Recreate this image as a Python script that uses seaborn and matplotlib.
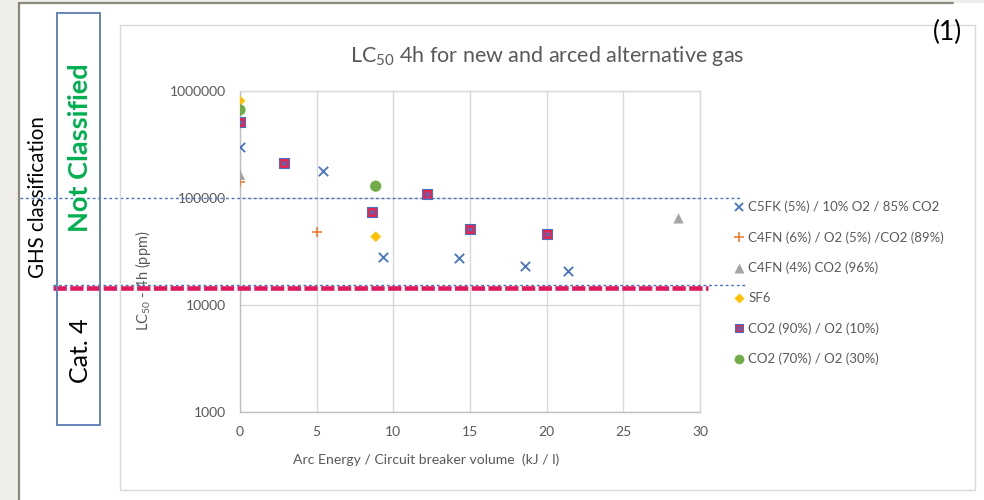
import numpy as np
import pandas as pd
import matplotlib
matplotlib.use('Agg')
import matplotlib.pyplot as plt
import matplotlib.transforms as mtransforms
from matplotlib.patches import Rectangle
from matplotlib.lines import Line2D
from matplotlib.legend_handler import HandlerTuple
from matplotlib.ticker import FixedLocator, FuncFormatter
import seaborn as sns

# data
c5fk_x = [0, 5.4, 9.3, 14.3, 18.6, 21.4]
c5fk_y = [300000, 180000, 28000, 27500, 23000, 21000]
c4fn6_x = [0, 5.0]
c4fn6_y = [140000, 48000]
c4fn4_x = [0, 28.6]
c4fn4_y = [165000, 64500]
sf6_x = [0, 8.85]
sf6_y = [810000, 43500]
co2_90_x = [0, 2.85, 8.6, 12.2, 15.0, 20.0]
co2_90_y = [516000, 211000, 73500, 110000, 51500, 46000]
co2_70_x = [0, 8.85]
co2_70_y = [665000, 129000]

labels = ['C5FK (5%) / 10% O2 / 85% CO2',
          'C4FN (6%) / O2 (5%) /CO2 (89%)',
          'C4FN (4%) CO2 (96%)',
          'SF6',
          'CO2 (90%) / O2 (10%)',
          'CO2 (70%) / O2 (30%)']

not_classified_limit = 100000
cat4_limit_blue = 15300
cat4_limit_red = 14500

yticks = [1000, 10000, 100000, 1000000]
xticks = [0, 5, 10, 15, 20, 25, 30]

sns.set_theme(style="white")
plt.rcParams['font.family'] = ['Lato', 'DejaVu Sans']
plt.rcParams['mathtext.fontset'] = 'custom'
plt.rcParams['mathtext.rm'] = 'Lato'

W, H = 984, 500
fig = plt.figure(figsize=(9.84, 5.0), dpi=100)
fig.patch.set_facecolor('#efeeea')


def fx(px):
    return px / W


def fy(py):
    return 1 - py / H


# slide background and frame
fig.add_artist(Rectangle((fx(19), 0), 1 - fx(19), fy(3), transform=fig.transFigure,
                         facecolor='white', edgecolor='none', zorder=-10))
fig.add_artist(Line2D([fx(19), fx(19)], [0, fy(3)], transform=fig.transFigure,
                      color='#8a897a', lw=1.6))
fig.add_artist(Line2D([fx(19), fx(953)], [fy(3), fy(3)], transform=fig.transFigure,
                      color='#8a897a', lw=1.6))
# chart area box
fig.add_artist(Rectangle((fx(120), fy(490)), fx(975) - fx(120), fy(25) - fy(490),
                         transform=fig.transFigure, facecolor='none',
                         edgecolor='#d9d9d9', lw=1))
# GHS box
fig.add_artist(Rectangle((fx(57), fy(425)), fx(100) - fx(57), fy(13) - fy(425),
                         transform=fig.transFigure, facecolor='none',
                         edgecolor='#5a7bb5', lw=1.3))
fig.text(fx(38), fy(197), 'GHS classification', rotation=90, ha='center', va='center',
         fontsize=14.8, color='black')
fig.text(fx(80), fy(148), 'Not Classified', rotation=90, ha='center', va='center',
         fontsize=19.5, color='#00b050', fontweight='bold')
fig.text(fx(80), fy(351), 'Cat. 4', rotation=90, ha='center', va='center',
         fontsize=18, color='black')
fig.text(fx(948), fy(32), '(1)', ha='center', va='center', fontsize=19, color='black')
fig.text(fx(547), fy(56), r'LC$_{\mathregular{50}}$ 4h for new and arced alternative gas',
         ha='center', va='center', fontsize=15.5, color='#595959')

ax = fig.add_axes([fx(240), fy(412), fx(700) - fx(240), fy(91) - fy(412)])
ax.set_facecolor('white')
ax.set_yscale('log')
ax.set_xlim(0, 30)
ax.set_ylim(1000, 1000000)
ax.grid(True, color='#d9d9d9', lw=1)
ax.set_axisbelow(True)
for s in ax.spines.values():
    s.set_color('#d9d9d9')
    s.set_linewidth(1)
ax.spines['left'].set_color('#bfbfbf')
ax.spines['bottom'].set_color('#bfbfbf')

ax.xaxis.set_major_locator(FixedLocator(xticks))
ax.yaxis.set_major_locator(FixedLocator(yticks))
ax.yaxis.set_minor_locator(FixedLocator([]))
ax.yaxis.set_major_formatter(FuncFormatter(lambda v, p: str(int(v))))
ax.tick_params(axis='both', length=0, labelsize=10, labelcolor='#595959')
ax.tick_params(axis='x', pad=10)
ax.tick_params(axis='y', pad=10)

ax.set_xlabel('Arc Energy / Circuit breaker volume  (kJ / l)', fontsize=10.1,
              color='#595959')
ax.xaxis.set_label_coords(0.404, -0.13)
ax.set_ylabel(r'LC$_{\mathregular{50}}$ - 4h (ppm)', fontsize=10.5, color='#595959')
ax.yaxis.set_label_coords(-0.19, 0.41)

blue = '#4472c4'
orange = '#ed7d31'
grey = '#a5a5a5'
yellow = '#ffc000'
red = '#e8254f'
green = '#70ad47'

sns.scatterplot(x=c5fk_x, y=c5fk_y, marker='x', color=blue, s=45, linewidth=1.3, ax=ax, zorder=5)
sns.scatterplot(x=c4fn6_x, y=c4fn6_y, marker='+', color=orange, s=55, linewidth=1.2, ax=ax, zorder=5)
sns.scatterplot(x=c4fn4_x, y=c4fn4_y, marker='^', color=grey, s=55, edgecolor='none', ax=ax, zorder=5)
sns.scatterplot(x=sf6_x, y=sf6_y, marker='D', color=yellow, s=30, edgecolor='none', ax=ax, zorder=5)
sns.scatterplot(x=co2_90_x, y=co2_90_y, marker='s', color=red, s=45, edgecolor=blue,
                linewidth=0.8, ax=ax, zorder=5)
sns.scatterplot(x=co2_90_x, y=co2_90_y, marker='x', color=blue, s=8, linewidth=1.0, ax=ax, zorder=6)
sns.scatterplot(x=co2_70_x, y=co2_70_y, marker='o', color=green, s=65, edgecolor='none', ax=ax, zorder=5)

# classification thresholds extend beyond the axes
trans = mtransforms.blended_transform_factory(fig.transFigure, ax.transData)
ax.plot([fx(20), fx(740)], [not_classified_limit] * 2, transform=trans, clip_on=False,
        color=blue, lw=1, dashes=(2, 2), zorder=7)
ax.plot([fx(53), fx(745)], [cat4_limit_blue] * 2, transform=trans, clip_on=False,
        color=blue, lw=1, dashes=(2, 2), zorder=7)
ax.plot([fx(53), fx(708)], [cat4_limit_red] * 2, transform=trans, clip_on=False,
        color='#e0185d', lw=3.3, dashes=(2.9, 0.75), zorder=8)

handles = [
    Line2D([], [], marker='x', ls='none', color=blue, markersize=6, mew=1.3),
    Line2D([], [], marker='+', ls='none', color=orange, markersize=7, mew=1.2),
    Line2D([], [], marker='^', ls='none', color=grey, markersize=7, mec='none'),
    Line2D([], [], marker='D', ls='none', color=yellow, markersize=5, mec='none'),
    (Line2D([], [], marker='s', ls='none', color=red, markersize=6, mec=blue, mew=0.8),
     Line2D([], [], marker='x', ls='none', color=blue, markersize=2.5, mew=1.0)),
    Line2D([], [], marker='o', ls='none', color=green, markersize=7, mec='none'),
]
leg = ax.legend(handles, labels, loc='upper left', bbox_to_anchor=(fx(722), fy(189)),
                bbox_transform=fig.transFigure, frameon=False, fontsize=9.5,
                handlelength=0.8, handletextpad=0.3, labelspacing=1.36,
                handler_map={tuple: HandlerTuple(ndivide=1, pad=0)})
for t in leg.get_texts():
    t.set_color('#595959')

fig.savefig('out.png', dpi=100, facecolor=fig.get_facecolor())
